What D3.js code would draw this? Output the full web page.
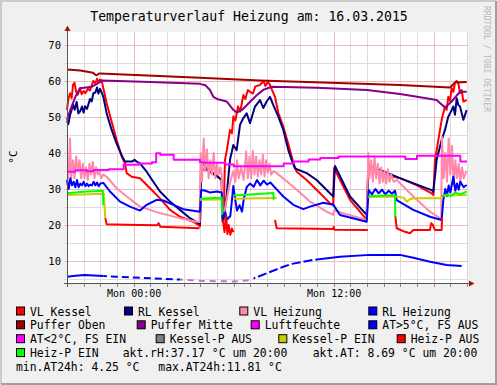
<!DOCTYPE html>
<html>
<head>
<meta charset="utf-8">
<script src="https://d3js.org/d3.v7.min.js"></script>
<style>
  body { margin: 0; background: #f0f0f0; }
  svg { display: block; font-family: 'DejaVu Sans Mono', monospace; }
</style>
</head>
<body>
<div id="chart"></div>
<script>
var width = 497, height = 385;
var plotLeft = 67, plotRight = 467, plotTop = 32, plotBottom = 283.5;

// time axis: 24h ending Mon 20:00
var start = new Date(2015, 2, 15, 20, 0);
var end = new Date(2015, 2, 16, 20, 0);

// all series: [hours since start, °C], null = gap
var vlKessel = [[0,52],[0.08,55],[0.18,56.6],[0.28,55.2],[0.36,58.9],[0.45,59.5],[0.55,57],[0.65,56.2],[0.78,58],[0.88,56.3],[1.0,57.2],[1.1,56.6],[1.25,57.8],[1.38,57.4],[1.5,59],[1.58,60],[1.7,59.3],[1.8,60.6],[1.9,59.6],[1.98,60.4],[2.08,60.1],[2.18,58],[2.38,53.8],[2.68,48.7],[2.98,43.6],[3.28,39],[3.48,37.1],[3.58,34.4],[3.88,33.4],[4.38,33],[4.98,30.2],[5.58,27.4],[6.18,24.2],[6.78,22.3],[7.58,20.9],[7.88,20],[7.98,19.6],[8.06,35.5],[8.38,35.3],[8.9,33.8],[9.28,32.5],[9.34,21],[9.4,23],[9.48,38.1],[9.6,41],[9.78,46.4],[9.9,45.5],[9.98,50.1],[10.1,49],[10.26,52.9],[10.4,51.5],[10.58,56.1],[10.7,55],[10.85,57.5],[10.98,57],[11.15,56.5],[11.3,58.5],[11.58,58.9],[11.8,60],[11.9,58.6],[12.05,59.8],[12.18,58.9],[12.3,57.5],[12.48,55.6],[12.68,51.1],[12.98,47.3],[13.38,40.8],[13.58,37.2],[13.78,34.8],[14.38,32.5],[14.88,30.2],[15.38,27.9],[15.78,26],[15.97,25.6],[16.02,35.8],[16.98,27],[17.98,21.5],[18.08,35.5],[18.78,34.4],[19.98,33],[21.0,31],[21.88,28.8],[21.98,28.3],[22.08,38.1],[22.28,43.6],[22.48,49.2],[22.68,52.9],[22.78,52],[22.88,55.6],[22.98,54.5],[23.08,58],[23.18,57],[23.28,59.5],[23.38,60],[23.48,59.4],[23.58,56.6],[23.68,57.5],[23.78,54.3],[23.98,54.7]];

var rlKessel = [[0,49],[0.08,48],[0.18,50.5],[0.28,52],[0.36,53.5],[0.46,52],[0.58,54.2],[0.68,51],[0.78,51.5],[0.9,52.9],[1.0,51.2],[1.08,53],[1.2,52.2],[1.38,55],[1.48,54.3],[1.58,56.6],[1.7,56.8],[1.8,58.2],[1.88,56.5],[1.98,57.8],[2.08,56.8],[2.18,55.6],[2.38,51],[2.68,46.4],[2.98,42.6],[3.28,39.4],[3.48,37.6],[3.9,37.6],[4.05,38.1],[4.18,37.6],[4.38,37.1],[4.78,34.8],[5.18,32],[5.58,29.3],[6.18,26.5],[6.78,24.2],[7.38,21.9],[7.88,20.5],[7.98,20.3],[8.05,38],[8.2,37],[8.38,35.5],[8.9,34],[9.28,32.5],[9.34,21],[9.38,20.9],[9.58,28.3],[9.78,38.1],[9.98,42.2],[10.18,40.8],[10.38,47.8],[10.58,49.7],[10.78,51],[10.98,48.3],[11.28,52.9],[11.58,54.7],[11.78,52.5],[11.98,54.3],[12.18,55.6],[12.38,53.3],[12.68,50.1],[12.98,46.4],[13.28,40.8],[13.48,38.1],[13.68,35.7],[14.38,34.4],[14.98,32.5],[15.58,29.7],[15.98,27.9],[16.08,36.4],[16.98,27.9],[17.98,22.8],[18.08,36.4],[18.78,35.3],[19.98,33],[21.0,31.2],[21.88,29.7],[21.98,29.2],[22.18,38.1],[22.48,43.6],[22.68,46.4],[22.88,50.1],[23.08,51.9],[23.18,52.9],[23.28,50.6],[23.38,55.2],[23.48,53.3],[23.58,52.9],[23.78,49.2],[23.98,51.9]];

var vlHeizung = [[0,31],[0.1,35],[0.18,44],[0.25,33],[0.36,38],[0.45,33],[0.55,39],[0.65,35],[0.75,38],[0.85,33],[0.95,37],[1.05,33],[1.15,36],[1.25,32.5],[1.35,37],[1.45,34],[1.55,37.5],[1.65,33],[1.75,36],[1.85,34],[1.95,35],[2.05,33],[2.18,34],[2.38,33.4],[2.98,30.2],[3.58,27.9],[4.38,25.1],[5.58,23.3],[6.78,21.9],[7.78,20.9],[7.95,20.8],[8.02,40],[8.1,32],[8.2,44],[8.3,35],[8.4,41],[8.5,33],[8.6,38],[8.7,34],[8.8,40],[8.9,33],[9.0,37],[9.1,34],[9.2,36],[9.28,34],[9.35,22.5],[9.5,25],[9.7,30],[9.85,33],[9.98,35],[10.1,32],[10.2,38],[10.3,33],[10.45,36],[10.6,32.5],[10.75,40.5],[10.85,33],[10.95,39],[11.05,33],[11.15,40.6],[11.25,34],[11.35,39],[11.45,33.5],[11.55,38],[11.65,34],[11.75,39.5],[11.85,33.5],[11.95,38],[12.05,34.5],[12.15,37],[12.25,34],[12.4,35],[12.58,34.4],[13.58,30.6],[14.58,26.5],[15.58,23.7],[15.98,22.8],[16.02,24],[17.98,21.4],[18.08,40],[18.15,33],[18.25,38],[18.35,32],[18.45,39],[18.55,33],[18.65,37],[18.75,31.5],[18.85,36],[18.95,32],[19.05,35],[19.15,31.5],[19.25,35.5],[19.35,32],[19.45,34],[19.6,32],[19.8,32.5],[19.98,31.6],[20.78,27.9],[21.78,23.7],[22.38,21.9],[22.45,21.5],[22.5,44.5],[22.6,33],[22.7,40],[22.8,32],[22.9,44],[23.0,34],[23.1,42],[23.2,31],[23.3,38],[23.4,33],[23.5,37],[23.6,32],[23.7,36],[23.8,33],[23.98,35]];

var rlHeizung = [[0,32.5],[0.1,30],[0.2,33],[0.3,31],[0.4,32],[0.5,30.5],[0.6,32.5],[0.7,30.5],[0.8,31.5],[0.9,31],[1.0,32],[1.1,30.8],[1.2,31.5],[1.3,30.8],[1.4,31.2],[1.5,31],[1.6,32],[1.7,31],[1.8,31.8],[1.9,30.8],[2.0,31.5],[2.18,31.7],[2.58,29.3],[3.18,26.5],[3.78,25.1],[4.38,24],[4.78,25.6],[5.38,27],[5.78,26.8],[6.38,25.6],[6.98,24.4],[7.98,23.7],[8.05,29.7],[8.3,29.5],[8.6,29],[9.0,29.3],[9.28,29],[9.33,22.3],[9.5,23.5],[9.6,21.5],[9.8,22.5],[9.98,30.8],[10.1,27],[10.2,24],[10.35,25.5],[10.5,23.7],[10.6,27],[10.78,30.5],[10.98,31.5],[11.2,30.6],[11.4,32.5],[11.6,31],[11.8,32.3],[12.0,31.2],[12.2,31.8],[12.4,30.8],[12.98,27.9],[13.58,25.6],[14.18,24.4],[14.58,25.1],[15.38,26.2],[15.98,25.6],[16.38,22.8],[17.98,20.9],[18.1,29.7],[18.3,28.5],[18.5,30],[18.7,28.8],[18.9,29.8],[19.1,28.5],[19.3,29.5],[19.5,28.7],[19.68,29.5],[19.78,26.9],[20.78,24.2],[21.78,22.3],[22.48,21.4],[22.58,26.9],[22.7,30],[22.8,28],[22.9,31],[23.0,29],[23.18,33.4],[23.3,29.5],[23.4,31.5],[23.5,29.8],[23.6,32],[23.8,30.5],[23.98,31.1]];

var pufferOben = [[0,63.2],[0.8,62.9],[1.56,62.3],[1.7,61.7],[1.78,61.6],[1.9,62],[1.98,62.1],[7.98,60.9],[11.58,60.1],[19.98,58.9],[22.98,58.2],[23.2,59.2],[23.28,59.6],[23.98,59.7]];

var pufferMitte = [[0,49.2],[0.2,52],[0.5,55.6],[0.78,58],[1.5,58.4],[1.8,59.2],[2.08,60.1],[5,59.7],[7.98,59.2],[8.3,58.8],[8.58,57.5],[8.78,55.6],[9.0,55],[9.58,54.3],[9.98,52],[10.2,51.2],[10.56,52.2],[11.0,54.3],[11.4,56.1],[11.8,57.6],[12.3,58.4],[15,58.1],[18.0,57.5],[19.98,56.4],[21.0,55.6],[22.18,54.7],[22.68,52.6],[23.08,54.3],[23.58,57],[23.98,57]];

var luftfeuchte = [[0,34.8],[0.5,35.2],[1.2,34.9],[1.6,35.3],[2.5,35.5],[3.4,36.7],[4.3,37.1],[5.1,37.4],[5.35,39.9],[5.6,39.5],[6.4,38.1],[7.98,37.4],[8.2,37.3],[9.5,36.8],[10.0,36.3],[13.0,37.1],[13.6,37.6],[14.5,38.2],[15.2,38.6],[16.3,39.0],[20.3,38.3],[21.0,39.2],[23.6,37.6],[24,37.6]];

var aussenTemp = [[0,5.6],[0.5,5.9],[1.08,6.1],[1.6,6.0],[2.2,5.8],[3,5.6],[4,5.4],[5,5.2],[6,5.0],[7,4.8],[8,4.5],[9,4.4],[10,4.3],[10.8,4.6],[11.4,5.5],[11.98,6.6],[12.98,8.4],[13.5,9.2],[14.78,10.3],[16.38,11.2],[18.18,11.7],[19.98,11.7],[20.78,10.9],[21.78,9.8],[22.78,8.9],[23.68,8.6]];

var kesselPEin = [[0,28.3],[2.2,28.7],[2.24,26.2],[2.3,21.9],[2.3,null],[7.98,27.0],[9.28,27.1],[9.28,null],[9.98,27.3],[12.58,27.5],[12.58,null],[18.08,27.8],[19.68,27.9],[20.2,27.6],[20.38,26.5],[20.6,27.2],[20.78,27.4],[22.48,27.4],[22.55,28.2],[23.98,28.3]];

var heizPAus = [[2.3,21.9],[2.38,20.2],[3.5,20.1],[5.4,19.9],[5.5,20.5],[5.6,19.5],[7.95,19.1],[7.95,null],[9.35,21.5],[9.45,18],[9.55,22.5],[9.62,17.5],[9.7,20],[9.8,17.3],[9.9,19],[9.98,18],[9.98,null],[12.48,21.4],[12.58,19.1],[15.98,18.9],[16.0,19.5],[16.05,18.7],[17.98,18.6],[18.05,18.6],[18.05,null],[19.7,22.5],[19.78,19.1],[20.28,18.1],[20.58,17.7],[20.78,18.6],[21.78,18.6],[21.85,20.5],[21.95,20.0],[22.08,18.6],[22.48,18.6],[22.5,22]];

var heizPEin = [[0,28.8],[1,29.2],[2.15,29.5],[2.18,25.5],[2.18,null],[7.98,27.2],[8.5,27.4],[9.28,27.6],[9.3,22.8],[9.3,null],[9.98,28.2],[11,28.5],[12.38,28.9],[12.4,27],[12.4,null],[18.1,28.0],[19,28.2],[19.68,28.2],[19.7,22.3],[19.7,null],[22.5,28.0],[22.8,28.5],[23.0,28.0],[23.3,29.0],[23.6,28.5],[23.98,29.3]];

// legend
var legendNames = ['VL Kessel','RL Kessel','VL Heizung','RL Heizung','Puffer Oben','Puffer Mitte','Luftfeuchte','AT>5°C, FS AUS','AT<2°C, FS EIN','Kessel-P AUS','Kessel-P EIN','Heiz-P AUS','Heiz-P EIN'];
var legendColors = ['#ff0000','#000080','#ff88aa','#0000ff','#a00000','#880088','#ff00ff','#0000ff','#ff00ff','#808080','#cccc00','#ff0000','#00ff00'];
var infoTexts = ['akt.rH:37.17 °C um 20:00','akt.AT: 8.69 °C um 20:00','min.AT24h: 4.25 °C','max.AT24h:11.81 °C'];

var yTicks = [10,20,30,40,50,60,70];
var yMinor = [5,15,25,35,45,55,65];

var x = d3.scaleTime().domain([start, end]).range([plotLeft, plotRight]);
var y = d3.scaleLinear().domain([3.75, 73.6]).range([plotBottom, plotTop]);
var hrs = h => new Date(+start + h * 3600e3);

var svg = d3.select('#chart').append('svg')
  .attr('width', width).attr('height', height);

// background + rrd style frame
svg.append('rect').attr('width', width).attr('height', height).attr('fill', '#f0f0f0');
svg.append('path').attr('d', 'M1,384 V1 H496').attr('fill', 'none').attr('stroke', '#cbcbcb').attr('stroke-width', 2);
svg.append('path').attr('d', 'M1,384 H496 V1').attr('fill', 'none').attr('stroke', '#a0a0a0').attr('stroke-width', 2);

svg.append('rect')
  .attr('x', plotLeft).attr('y', plotTop)
  .attr('width', plotRight - plotLeft).attr('height', plotBottom - plotTop)
  .attr('fill', '#fff');

// grid
function gridX(every, color) {
  var g = svg.append('g').attr('transform', 'translate(0,' + plotBottom + ')')
    .call(d3.axisBottom(x).ticks(every).tickSize(-(plotBottom - plotTop)).tickFormat(''));
  g.select('.domain').remove();
  g.selectAll('line').attr('stroke', color).attr('shape-rendering', 'crispEdges');
}
function gridY(vals, color) {
  var g = svg.append('g').attr('transform', 'translate(' + plotLeft + ',0)')
    .call(d3.axisLeft(y).tickValues(vals).tickSize(-(plotRight - plotLeft) - 1).tickFormat(''));
  g.select('.domain').remove();
  g.selectAll('line').attr('stroke', color).attr('shape-rendering', 'crispEdges').attr('x1', -3);
}
gridX(d3.timeHour.every(1), '#dcdcdc');
gridY(yMinor, '#dcdcdc');
gridX(d3.timeHour.every(6), '#ecbcbc');
gridY(yTicks, '#ecbcbc');

// series
var line = d3.line()
  .defined(d => d[1] != null)
  .x(d => x(hrs(d[0])))
  .y(d => y(d[1]));

var plot = svg.append('g');
var clipId = 0;
function drawSeries(data, color, opts) {
  opts = opts || {};
  var p = plot.append('path')
    .datum(data)
    .attr('fill', 'none')
    .attr('stroke', color)
    .attr('stroke-width', opts.width || 2)
    .attr('stroke-linejoin', 'round')
    .attr('d', opts.curve ? line.curve(opts.curve)(data) : line.curve(d3.curveLinear)(data));
  line.curve(d3.curveLinear);
  if (opts.dash) p.attr('stroke-dasharray', opts.dash);
  if (opts.range) {
    var id = 'clip' + (clipId++);
    svg.append('clipPath').attr('id', id).append('rect')
      .attr('x', x(hrs(opts.range[0]))).attr('y', 0)
      .attr('width', x(hrs(opts.range[1])) - x(hrs(opts.range[0]))).attr('height', height);
    p.attr('clip-path', 'url(#' + id + ')');
  }
}

drawSeries(vlKessel, legendColors[0]);
drawSeries(rlKessel, legendColors[1]);
drawSeries(vlHeizung, legendColors[2]);
drawSeries(rlHeizung, legendColors[3]);
drawSeries(pufferOben, legendColors[4]);
drawSeries(pufferMitte, legendColors[5]);
drawSeries(luftfeuchte, legendColors[6], {curve: d3.curveStepAfter});
drawSeries(aussenTemp, legendColors[7], {range: [0, 2.2]});
drawSeries(aussenTemp, legendColors[7], {range: [2.2, 6.8], dash: '7,4'});
drawSeries(aussenTemp, '#c070d0', {range: [6.8, 11.2], dash: '6,5'});
drawSeries(aussenTemp, legendColors[7], {range: [11.2, 15], dash: '9,3'});
drawSeries(aussenTemp, legendColors[7], {range: [15, 24]});
drawSeries(kesselPEin, legendColors[10]);
drawSeries(heizPAus, legendColors[11]);
drawSeries(heizPEin, legendColors[12]);

// axes
var ax = svg.append('g').attr('transform', 'translate(0,' + plotBottom + ')')
  .call(d3.axisBottom(x).ticks(d3.timeHour.every(1)).tickSize(3).tickFormat(''));
ax.select('.domain').remove();
ax.selectAll('line').attr('stroke', '#888').attr('shape-rendering', 'crispEdges');

svg.append('line').attr('x1', 64).attr('x2', 470).attr('y1', plotBottom).attr('y2', plotBottom)
  .attr('stroke', '#555').attr('shape-rendering', 'crispEdges');
svg.append('line').attr('x1', 67.5).attr('x2', 67.5).attr('y1', 287).attr('y2', 30)
  .attr('stroke', '#555').attr('shape-rendering', 'crispEdges');
svg.append('path').attr('d', 'M64.5,31 L70.5,31 L67.5,25.5 Z').attr('fill', '#a01818');
svg.append('path').attr('d', 'M469,280.5 L469,286.5 L474.5,283.5 Z').attr('fill', '#a01818');

var yl = svg.append('g').attr('transform', 'translate(' + plotLeft + ',0)')
  .call(d3.axisLeft(y).tickValues(yTicks).tickSize(0).tickPadding(6));
yl.select('.domain').remove();
yl.selectAll('text').attr('font-family', 'DejaVu Sans Mono').attr('font-size', 10.5).attr('fill', '#000');

var xl = svg.append('g').attr('transform', 'translate(0,' + plotBottom + ')')
  .call(d3.axisBottom(x).ticks(d3.timeHour.every(12)).tickFormat(d3.timeFormat('%a %H:%M')).tickSize(0).tickPadding(6.5));
xl.select('.domain').remove();
xl.selectAll('text').attr('font-family', 'DejaVu Sans Mono').attr('font-size', 10).attr('fill', '#000');

// titles
svg.append('text').attr('x', 249).attr('y', 21).attr('text-anchor', 'middle')
  .attr('font-size', 13.2).attr('fill', '#000')
  .text('Temperaturverlauf Heizung am: 16.03.2015');
svg.append('text').attr('transform', 'translate(17,157) rotate(-90)').attr('text-anchor', 'middle')
  .attr('font-size', 11).attr('fill', '#000').text('°C');
svg.append('text').attr('transform', 'translate(484,6) rotate(90)')
  .attr('font-size', 8).attr('fill', '#b8b8b8').text('RRDTOOL / TOBI OETIKER');

// legend rows (swatch x positions, justified like rrdtool)
var rows = [
  {y: 311.5, items: [0,1,2,3], xs: [16,124,239.3,368.3]},
  {y: 325.3, items: [4,5,6,7], xs: [16,136.7,250.7,368.3]},
  {y: 339.2, items: [8,9,10,11], xs: [16,155.7,278.3,396.7]},
  {y: 353.1, items: [12], xs: [16]}
];
var lg = svg.append('g').attr('font-size', 11.4).attr('fill', '#000');
rows.forEach(function(r) {
  r.items.forEach(function(idx, i) {
    lg.append('rect').attr('x', r.xs[i] + 0.5).attr('y', r.y - 4.5)
      .attr('width', 8).attr('height', 8)
      .attr('fill', legendColors[idx]).attr('stroke', '#000').attr('stroke-width', 1);
    lg.append('text').attr('x', r.xs[i] + 14).attr('y', r.y + 4).text(legendNames[idx]);
  });
});
lg.append('text').attr('x', 122.7).attr('y', 357.1).text(infoTexts[0]);
lg.append('text').attr('x', 312.7).attr('y', 357.1).text(infoTexts[1]);
lg.append('text').attr('x', 16).attr('y', 371.2).text(infoTexts[2]);
lg.append('text').attr('x', 158.3).attr('y', 371.2).text(infoTexts[3]);
</script>
</body>
</html>
